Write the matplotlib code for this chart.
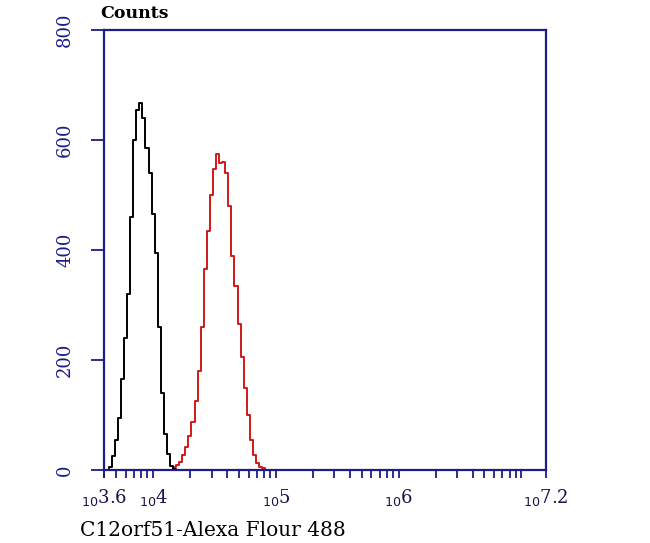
import numpy as np
import matplotlib
matplotlib.use("Agg")
import matplotlib.pyplot as plt

# histogram bins (log10 of fluorescence), bin width 0.025 decade
bin_width = 0.025
black_start = 3.650
black_counts = [5, 25, 55, 95, 165, 240, 320, 460, 600, 655, 667, 640, 585,
                540, 465, 395, 260, 140, 65, 30, 8, 2]
red_start = 4.175
red_counts = [5, 10, 15, 28, 42, 62, 88, 125, 180, 260, 365, 435, 500, 548,
              575, 558, 560, 540, 480, 390, 335, 265, 205, 150, 100, 55, 28,
              12, 6, 3]

x_tick_pos = [3.6, 4, 5, 6, 7.2]
x_tick_labels = ["3.6", "4", "5", "6", "7.2"]
y_ticks = [0, 200, 400, 600, 800]

navy = "#1c1c8a"

fig = plt.figure(figsize=(6.5, 5.43), dpi=100)
ax = fig.add_axes([0.16, 0.1344, 0.68, 0.8103])

def step_line(start, counts, x0, x1):
    x = start + bin_width * np.arange(len(counts))
    xs = np.concatenate([[x0, x[0] - bin_width], x, [x[-1] + bin_width, x1]])
    ys = np.concatenate([[0, 0], counts, [0, 0]])
    return xs, ys

bx, by = step_line(black_start, black_counts, 3.62, 4.35)
rx, ry = step_line(red_start, red_counts, 3.62, 4.95)
ax.step(rx, ry, where="mid", color="#d01818", lw=1.4)
ax.step(bx, by, where="mid", color="black", lw=1.4)

ax.set_xlim(3.6, 7.2)
ax.set_ylim(0, 800)

# x ticks: major labels + minor log ticks
minor = []
for d in range(3, 8):
    for m in range(1, 10):
        v = d + np.log10(m)
        if 3.6 <= v <= 7.2:
            minor.append(v)
ax.set_xticks(minor, minor=True)
ax.set_xticks(x_tick_pos)
ax.set_xticklabels([r"$_{10}$" + t for t in x_tick_labels],
                   family="DejaVu Serif", fontsize=13, color="#15154a")
ax.tick_params(axis="x", which="both", direction="out", length=6, width=1.3,
               color=navy, pad=6)
ax.set_yticks(y_ticks)
ax.set_yticklabels([str(v) for v in y_ticks], rotation=90, va="center",
                   family="DejaVu Serif", fontsize=13, color=navy)
ax.tick_params(axis="y", direction="out", length=9.5, width=1.3, color=navy, pad=12)

for s in ax.spines.values():
    s.set_color(navy)
    s.set_linewidth(1.6)

fig.text(100 / 650, 1 - 14 / 543, "Counts", family="DejaVu Serif",
         fontsize=12.5, fontweight="bold", va="center", ha="left")
fig.text(80 / 650, 1 - 530 / 543, "C12orf51-Alexa Flour 488",
         family="DejaVu Serif", fontsize=14.5, va="center", ha="left")

fig.savefig("out.png", dpi=100, facecolor="white")
